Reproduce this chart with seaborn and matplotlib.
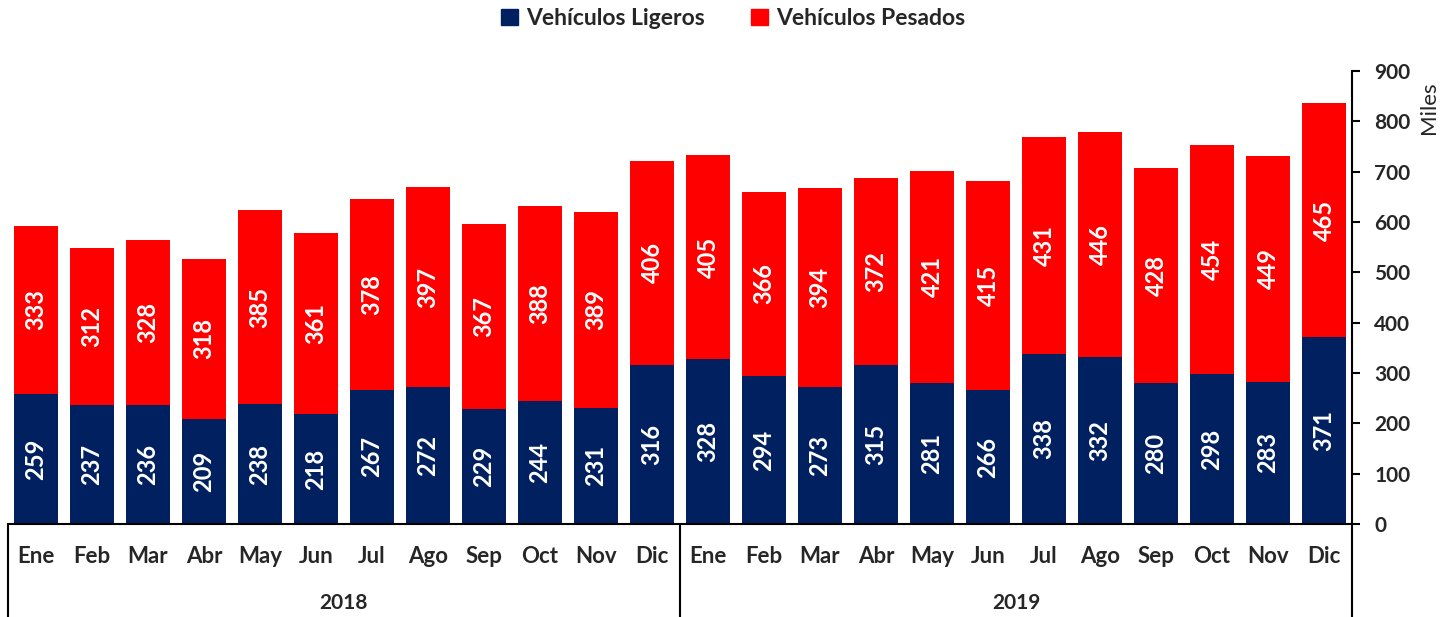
import matplotlib
matplotlib.use("Agg")
import matplotlib.pyplot as plt
import seaborn as sns
import pandas as pd
import numpy as np
from matplotlib.patches import Patch
from matplotlib.transforms import blended_transform_factory

months = ["Ene", "Feb", "Mar", "Abr", "May", "Jun", "Jul", "Ago", "Sep", "Oct", "Nov", "Dic"]
years = ["2018", "2019"]
ligeros = [259, 237, 236, 209, 238, 218, 267, 272, 229, 244, 231, 316,
           328, 294, 273, 315, 281, 266, 338, 332, 280, 298, 283, 371]
pesados = [333, 312, 328, 318, 385, 361, 378, 397, 367, 388, 389, 406,
           405, 366, 394, 372, 421, 415, 431, 446, 428, 454, 449, 465]
yticks = [0, 100, 200, 300, 400, 500, 600, 700, 800, 900]

sns.set_theme(style="white")
plt.rcParams['font.family'] = ['Lato', 'DejaVu Sans']

keys = [f"{y}-{m}" for y in years for m in months]
df = pd.DataFrame({"key": keys, "lig": ligeros, "pes": pesados})

NAVY = "#002060"
RED = "#FF0000"

fig = plt.figure(figsize=(14.54, 6.17), dpi=100)
ax = fig.add_axes([8/1454, 93/617, 1344/1454, 453/617])

sns.barplot(data=df, x="key", y="lig", order=keys, color=NAVY, saturation=1,
            width=0.78, ax=ax, edgecolor="none")
sns.barplot(data=df, x="key", y="pes", order=keys, color=RED, saturation=1,
            width=0.78, ax=ax, bottom=df["lig"].values, edgecolor="none")

for i, (l, p) in enumerate(zip(ligeros, pesados)):
    ax.text(i, l / 2, str(l), rotation=90, ha="center", va="center",
            color="white", fontsize=17, fontweight="bold")
    ax.text(i, l + p / 2, str(p), rotation=90, ha="center", va="center",
            color="white", fontsize=17, fontweight="bold")

ax.set_xlim(-0.5, len(keys) - 0.5)
ax.set_ylim(0, 900)
ax.yaxis.tick_right()
ax.yaxis.set_label_position("right")
ax.set_yticks(yticks)
ax.set_yticklabels([str(v) for v in yticks], fontsize=15, fontweight="bold")
ax.tick_params(axis="y", direction="out", length=6, width=1.5, color="black", pad=10, right=True)
ax.set_ylabel("Miles", fontsize=16, rotation=90)
ax.yaxis.set_label_coords(1.05, 0.92)

ax.set_xticks(range(len(keys)))
ax.set_xticklabels(months * 2, fontsize=16, fontweight="bold")
ax.tick_params(axis="x", length=0, pad=16)
ax.set_xlabel("")

for s in ["top", "left"]:
    ax.spines[s].set_visible(False)
ax.spines["bottom"].set_color("black")
ax.spines["bottom"].set_linewidth(1.5)
ax.spines["right"].set_color("black")
ax.spines["right"].set_linewidth(1.5)

trans = blended_transform_factory(ax.transData, ax.transAxes)
for xpos in [-0.5, 11.5, 23.5]:
    ax.plot([xpos, xpos], [0, -0.21], color="black", lw=1.5, transform=trans, clip_on=False)
for j, y in enumerate(years):
    ax.text(5.5 + 12 * j, -0.175, y, transform=trans, ha="center", va="center",
            fontsize=15, fontweight="bold")

handles = [Patch(color=NAVY, label="Vehículos Ligeros"), Patch(color=RED, label="Vehículos Pesados")]
fig.legend(handles=handles, loc="center", bbox_to_anchor=(0.504, 0.97), ncol=2, frameon=False,
           prop={"size": 16.5, "weight": "bold"}, handlelength=0.75, handleheight=0.75,
           handletextpad=0.35, columnspacing=2.0)

fig.savefig("out.png", dpi=100)
